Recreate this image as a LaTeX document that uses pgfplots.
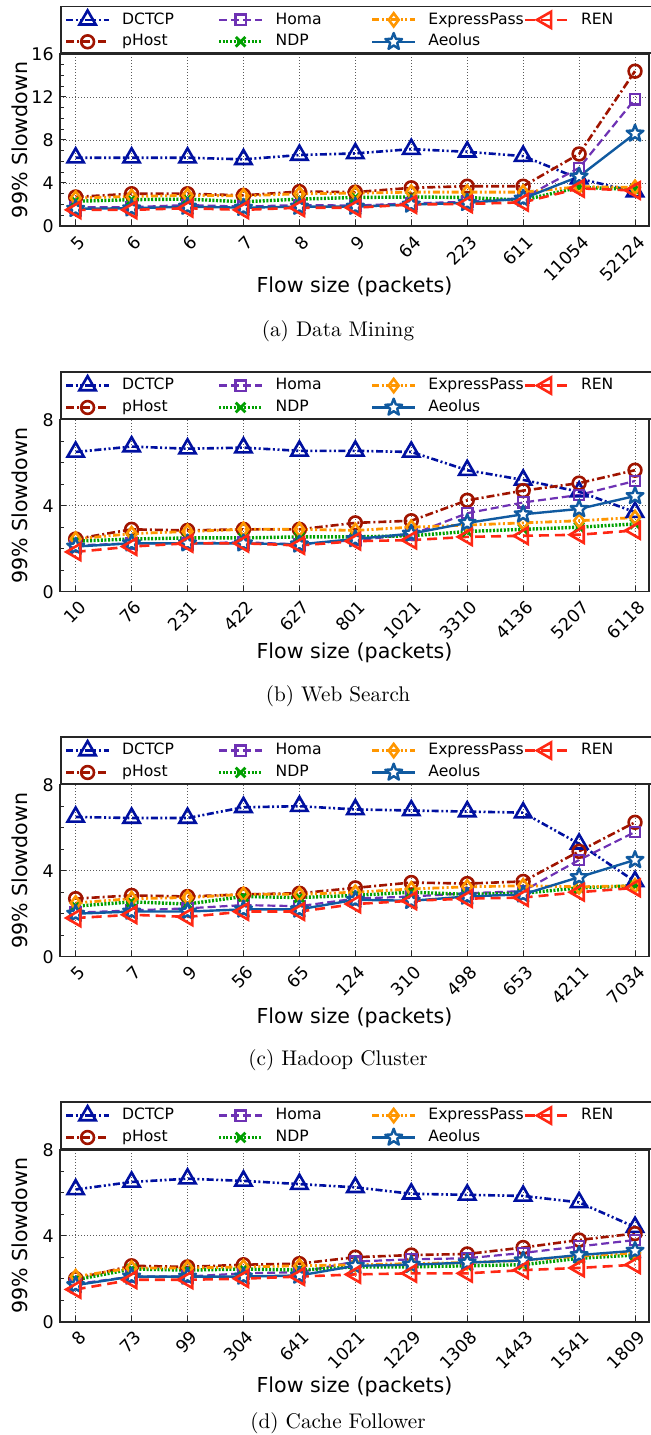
\documentclass[border=0pt]{standalone}
\usepackage{pgfplots}
\usepackage{pgfplotstable}
\pgfplotsset{compat=1.18}
\usepackage{fontspec}
\newfontfamily\dv{DejaVu Sans}

\definecolor{cDCTCP}{RGB}{0,16,160}
\definecolor{cpHost}{RGB}{160,20,0}
\definecolor{cHoma}{RGB}{110,50,180}
\definecolor{cNDP}{RGB}{0,160,0}
\definecolor{cEP}{RGB}{255,150,0}
\definecolor{cAeolus}{RGB}{16,90,160}
\definecolor{cREN}{RGB}{255,40,20}

\pgfdeclareplotmark{ostar}{%
 \pgfpathmoveto{\pgfpointpolar{90}{\pgfplotmarksize}}%
 \pgfpathlineto{\pgfpointpolar{126}{0.42\pgfplotmarksize}}%
 \pgfpathlineto{\pgfpointpolar{162}{\pgfplotmarksize}}%
 \pgfpathlineto{\pgfpointpolar{198}{0.42\pgfplotmarksize}}%
 \pgfpathlineto{\pgfpointpolar{234}{\pgfplotmarksize}}%
 \pgfpathlineto{\pgfpointpolar{270}{0.42\pgfplotmarksize}}%
 \pgfpathlineto{\pgfpointpolar{306}{\pgfplotmarksize}}%
 \pgfpathlineto{\pgfpointpolar{342}{0.42\pgfplotmarksize}}%
 \pgfpathlineto{\pgfpointpolar{18}{\pgfplotmarksize}}%
 \pgfpathlineto{\pgfpointpolar{54}{0.42\pgfplotmarksize}}%
 \pgfpathclose
 \pgfusepathqfillstroke}

% x DCTCP pHost Homa NDP EP Aeolus REN
\pgfplotstableread{
x DCTCP pHost Homa NDP EP Aeolus REN
0 6.35 2.7 1.75 2.3 2.6 1.6 1.5
1 6.35 3.0 1.75 2.45 2.75 1.65 1.5
2 6.35 3.0 1.95 2.5 2.85 1.8 1.65
3 6.2 2.85 1.8 2.25 2.8 1.7 1.5
4 6.6 3.2 1.95 2.5 3.0 1.8 1.7
5 6.75 3.15 1.9 2.65 3.05 1.8 1.7
6 7.15 3.55 2.1 2.7 3.15 2.0 2.0
7 6.9 3.7 2.25 2.65 3.15 2.15 2.05
8 6.5 3.7 2.6 2.4 3.15 2.55 2.2
9 4.4 6.7 5.4 3.6 3.65 4.6 3.5
10 3.2 14.4 11.8 3.4 3.6 8.6 3.3
}\dm
\pgfplotstableread{
x DCTCP pHost Homa NDP EP Aeolus REN
0 6.5 2.45 2.15 2.35 2.45 2.1 1.85
1 6.75 2.9 2.25 2.45 2.7 2.25 2.1
2 6.65 2.85 2.25 2.5 2.8 2.25 2.25
3 6.7 2.9 2.3 2.5 2.9 2.25 2.25
4 6.55 2.9 2.2 2.55 2.9 2.2 2.15
5 6.55 3.2 2.4 2.55 2.85 2.45 2.35
6 6.5 3.3 2.65 2.6 3.0 2.7 2.4
7 5.65 4.25 3.65 2.8 3.1 3.2 2.55
8 5.2 4.7 4.15 2.9 3.2 3.6 2.6
9 4.65 5.05 4.5 3.0 3.3 3.85 2.65
10 3.7 5.65 5.15 3.15 3.45 4.45 2.85
}\ws
\pgfplotstableread{
x DCTCP pHost Homa NDP EP Aeolus REN
0 6.5 2.7 2.05 2.35 2.5 2.0 1.8
1 6.45 2.85 2.15 2.55 2.7 2.1 1.95
2 6.45 2.8 2.25 2.45 2.75 2.1 1.85
3 6.95 2.9 2.4 2.8 2.9 2.2 2.1
4 7.0 2.95 2.35 2.75 2.9 2.2 2.1
5 6.85 3.2 2.7 2.85 3.0 2.65 2.45
6 6.8 3.45 2.8 3.0 3.15 2.6 2.6
7 6.75 3.4 2.95 2.9 3.25 2.8 2.7
8 6.7 3.5 3.05 2.95 3.3 2.9 2.75
9 5.25 4.9 4.5 3.2 3.25 3.7 3.0
10 3.5 6.25 5.8 3.3 3.3 4.5 3.2
}\hc
\pgfplotstableread{
x DCTCP pHost Homa NDP EP Aeolus REN
0 6.15 2.0 1.75 1.95 2.1 1.7 1.5
1 6.5 2.6 2.1 2.45 2.5 2.1 1.95
2 6.65 2.55 2.1 2.4 2.5 2.1 1.95
3 6.55 2.65 2.25 2.45 2.55 2.1 2.0
4 6.4 2.7 2.3 2.4 2.6 2.15 2.1
5 6.25 3.0 2.8 2.55 2.65 2.6 2.2
6 5.95 3.1 2.9 2.55 2.7 2.65 2.25
7 5.9 3.15 2.95 2.6 2.75 2.75 2.25
8 5.85 3.45 3.2 2.65 2.85 2.85 2.4
9 5.55 3.8 3.5 2.95 3.05 3.1 2.5
10 4.4 4.1 3.8 3.1 3.2 3.3 2.65
}\cf

\pgfplotsset{
 sDCTCP/.style={color=cDCTCP, line width=1.3pt, dash pattern=on 3.5pt off 1.3pt on 1pt off 1.3pt on 1pt off 1.3pt, mark=triangle, mark size=4.7pt, mark options={solid, fill=white, line width=1.3pt}},
 spHost/.style={color=cpHost, line width=1.3pt, dash pattern=on 4pt off 1.5pt on 1pt off 1.5pt, mark=o, mark size=3.2pt, mark options={solid, fill=white, line width=1.3pt}},
 sHoma/.style={color=cHoma, line width=1.1pt, dash pattern=on 4pt off 2pt, mark=square, mark size=2.6pt, mark options={solid, fill=white, line width=1.2pt}},
 sNDP/.style={color=cNDP, line width=1.7pt, dash pattern=on 1pt off 0.8pt, mark=x, mark size=3.4pt, mark options={solid, line width=1.4pt}},
 sEP/.style={color=cEP, line width=1.4pt, dash pattern=on 3.5pt off 1.3pt on 1pt off 1.3pt on 1pt off 1.3pt, mark=diamond, mark size=3.3pt, mark options={solid, fill=white, line width=1.3pt}},
 sAeolus/.style={color=cAeolus, line width=1.2pt, solid, mark=ostar, mark size=4.4pt, mark options={solid, fill=white, line width=1.2pt, line join=round}},
 sREN/.style={color=cREN, line width=1.3pt, dash pattern=on 5pt off 3pt, mark=triangle, mark size=4.7pt, mark options={solid, fill=white, line width=1.3pt, rotate=90}},
 common/.style={
  width=294.5pt, height=86pt, scale only axis,
  xmin=-0.28, xmax=10.25, ymin=0,
  xtick={0,...,10},
  tick pos=left, tick align=inside,
  major tick length=3pt, minor tick length=2pt,
  minor y tick num=3,
  xmajorgrids, ymajorgrids,
  major grid style={black!65, line width=0.45pt, dash pattern=on 0.5pt off 1pt},
  axis line style={black!85, line width=0.8pt},
  every tick/.append style={black!85, line width=0.5pt},
  ticklabel style={font=\dv\fontsize{8.7}{10}\selectfont},
  /pgf/number format/assume math mode=true,
  yticklabel style={inner sep=0pt, xshift=-3pt},
  xticklabel style={inner sep=0pt, xshift=3.5pt, yshift=-6.3pt, rotate=45, anchor=east},
  label style={font=\dv\fontsize{10.3}{12}\selectfont},
  xlabel={Flow size (packets)},
  ylabel={99\% Slowdown},
  xlabel style={at={(axis description cs:0.5,-0.3547)}, anchor=center},
  ylabel style={at={(axis description cs:-0.0688,0.5)}, anchor=center},
  legend style={at={(axis description cs:0,1)}, anchor=south west, draw=black!85, line width=0.8pt,
    inner xsep=2pt, inner ysep=2pt, legend columns=4,
    font=\dv\fontsize{7.8}{9}\selectfont,
    nodes={inner sep=0pt, text height=5.8pt, text depth=1.6pt},
    /tikz/every odd column/.append style={column sep=5.9pt},
    /tikz/every even column/.append style={column sep=0pt},
    row sep=2.5pt},
  legend cell align=left,
  legend image code/.code={\draw[mark repeat=2, mark phase=2] plot coordinates {(0pt,0pt) (10.75pt,0pt) (21.5pt,0pt)};},
 }
}

\newcommand{\allplots}[1]{%
 \addplot[sDCTCP, forget plot] table[x=x,y=DCTCP]{#1};
 \addplot[spHost, forget plot] table[x=x,y=pHost]{#1};
 \addplot[sHoma, forget plot] table[x=x,y=Homa]{#1};
 \addplot[sNDP, forget plot] table[x=x,y=NDP]{#1};
 \addplot[sEP, forget plot] table[x=x,y=EP]{#1};
 \addplot[sAeolus, forget plot] table[x=x,y=Aeolus]{#1};
 \addplot[sREN, forget plot] table[x=x,y=REN]{#1};
 \addlegendimage{sDCTCP}\addlegendentry{\makebox[47.6pt][l]{DCTCP}}
 \addlegendimage{sHoma}\addlegendentry{\makebox[47.6pt][l]{Homa}}
 \addlegendimage{sEP}\addlegendentry{\makebox[47.6pt][l]{ExpressPass}}
 \addlegendimage{sREN}\addlegendentry{\makebox[38pt][l]{REN}}
 \addlegendimage{spHost}\addlegendentry{\makebox[47.6pt][l]{pHost}}
 \addlegendimage{sNDP}\addlegendentry{\makebox[47.6pt][l]{NDP}}
 \addlegendimage{sAeolus}\addlegendentry{\makebox[47.6pt][l]{Aeolus}}
}

\begin{document}
\begin{tikzpicture}
\path[use as bounding box] (0,0) rectangle (325pt,717.5pt);

\begin{axis}[common, at={(30pt,604.5pt)}, anchor=south west, ymax=16, ytick={0,4,8,12,16},
  xticklabels={5,6,6,7,8,9,64,223,611,11054,52124}]
\allplots{\dm}
\end{axis}

\begin{axis}[common, at={(30pt,421.65pt)}, anchor=south west, ymax=8, ytick={0,4,8},
  xticklabels={10,76,231,422,627,801,1021,3310,4136,5207,6118}]
\allplots{\ws}
\end{axis}

\begin{axis}[common, at={(30pt,239.15pt)}, anchor=south west, ymax=8, ytick={0,4,8},
  xticklabels={5,7,9,56,65,124,310,498,653,4211,7034}]
\allplots{\hc}
\end{axis}

\begin{axis}[common, at={(30pt,56.65pt)}, anchor=south west, ymax=8, ytick={0,4,8},
  xticklabels={8,73,99,304,641,1021,1229,1308,1443,1541,1809},
  xlabel style={at={(axis description cs:0.5,-0.378)}, anchor=center}]
\allplots{\cf}
\end{axis}

\node[font=\fontsize{10.6}{12}\selectfont] at (169pt,551.7pt) {(a) Data Mining};
\node[font=\fontsize{10.6}{12}\selectfont] at (169pt,369.5pt) {(b) Web Search};
\node[font=\fontsize{10.6}{12}\selectfont] at (169pt,187.5pt) {(c) Hadoop Cluster};
\node[font=\fontsize{10.6}{12}\selectfont] at (169pt,6pt) {(d) Cache Follower};
\end{tikzpicture}
\end{document}
